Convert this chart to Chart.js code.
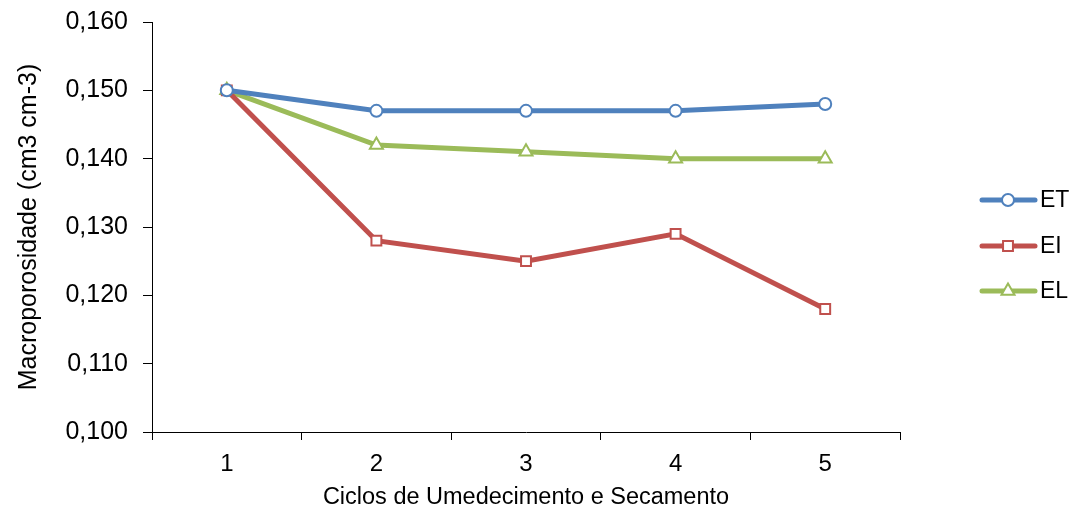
<!DOCTYPE html>
<html>
<head>
<meta charset="utf-8">
<script src="https://cdn.jsdelivr.net/npm/chart.js@4/dist/chart.umd.min.js"></script>
<style>
  html, body { margin: 0; padding: 0; background: #ffffff; }
  #wrap { width: 1079px; height: 515px; }
</style>
</head>
<body>
<div id="wrap"><canvas id="chart" width="1079" height="515"></canvas></div>
<script>
// Wetting/drying cycles and macroporosity per treatment
const ciclos = ['1', '2', '3', '4', '5'];
const serieET = [0.150, 0.147, 0.147, 0.147, 0.148];
const serieEI = [0.150, 0.128, 0.125, 0.129, 0.118];
const serieEL = [0.150, 0.142, 0.141, 0.140, 0.140];
const yTicks = [0.100, 0.110, 0.120, 0.130, 0.140, 0.150, 0.160];

const FONT = "'Liberation Sans', Arial, sans-serif";

function serie(label, data, color, pointStyle, radius) {
  return {
    label, data,
    borderColor: color,
    backgroundColor: '#ffffff',
    borderWidth: 5,
    pointStyle,
    pointRadius: radius,
    pointHoverRadius: radius,
    pointBorderColor: color,
    pointBackgroundColor: '#ffffff',
    pointBorderWidth: 2,
    tension: 0,
    fill: false
  };
}

// Legend drawn on the right: line segment with the marker in its middle
const sideLegend = {
  id: 'sideLegend',
  afterDatasetsDraw(chart) {
    const ctx = chart.ctx;
    const ys = [200, 246, 291];
    const cx = 1008;
    chart.data.datasets.forEach((ds, i) => {
      const y = ys[i];
      ctx.save();
      ctx.strokeStyle = ds.borderColor;
      ctx.lineWidth = 5;
      ctx.lineCap = 'round';
      ctx.beginPath();
      ctx.moveTo(982, y);
      ctx.lineTo(1035, y);
      ctx.stroke();
      ctx.fillStyle = '#ffffff';
      ctx.strokeStyle = ds.borderColor;
      ctx.lineWidth = 2;
      Chart.helpers.drawPoint(ctx, {
        pointStyle: ds.pointStyle,
        radius: ds.pointRadius,
        borderWidth: 2
      }, cx, y);
      ctx.fillStyle = '#000000';
      ctx.font = '23px ' + FONT;
      ctx.textBaseline = 'middle';
      ctx.textAlign = 'left';
      ctx.fillText(ds.label, 1040, y + 1);
      ctx.restore();
    });
  }
};

new Chart(document.getElementById('chart'), {
  type: 'line',
  data: {
    labels: ciclos,
    datasets: [
      serie('ET', serieET, '#4F81BD', 'circle', 6),
      serie('EI', serieEI, '#C0504D', 'rect', 7),
      serie('EL', serieEL, '#9BBB59', 'triangle', 7.5)
    ]
  },
  options: {
    responsive: false,
    animation: false,
    events: [],
    layout: { autoPadding: false, padding: { left: 0, right: 179, top: 22, bottom: 0 } },
    plugins: { legend: { display: false }, tooltip: { enabled: false } },
    scales: {
      x: {
        type: 'category',
        offset: true,
        afterFit(s) { s.height = 83; },
        grid: {
          offset: true,
          drawOnChartArea: false,
          drawTicks: true,
          tickLength: 8,
          color: '#000000',
          lineWidth: 1
        },
        border: { display: true, color: '#000000', width: 1 },
        ticks: { color: '#000000', font: { family: FONT, size: 24 }, padding: 10, maxRotation: 0 },
        title: {
          display: true,
          text: 'Ciclos de Umedecimento e Secamento',
          color: '#000000',
          font: { family: FONT, size: 23.5 },
          padding: { top: 0, bottom: 3 }
        }
      },
      y: {
        min: 0.100,
        max: 0.160,
        afterFit(s) {
          s.width = 152;
          // keep the plot top/bottom fixed by the layout padding alone
          s.paddingTop = 0;
          s.paddingBottom = 0;
        },
        afterBuildTicks(s) { s.ticks = yTicks.map(v => ({ value: v })); },
        grid: {
          drawOnChartArea: false,
          drawTicks: true,
          tickLength: 9,
          color: '#000000',
          lineWidth: 1
        },
        border: { display: true, color: '#000000', width: 1 },
        ticks: {
          color: '#000000',
          font: { family: FONT, size: 25 },
          padding: 15,
          callback: v => v.toFixed(3).replace('.', ',')
        },
        title: {
          display: true,
          text: 'Macroporosidade (cm3 cm-3)',
          color: '#000000',
          font: { family: FONT, size: 25 },
          padding: { top: 14, bottom: 0 }
        }
      }
    }
  },
  plugins: [sideLegend]
});
</script>
</body>
</html>
